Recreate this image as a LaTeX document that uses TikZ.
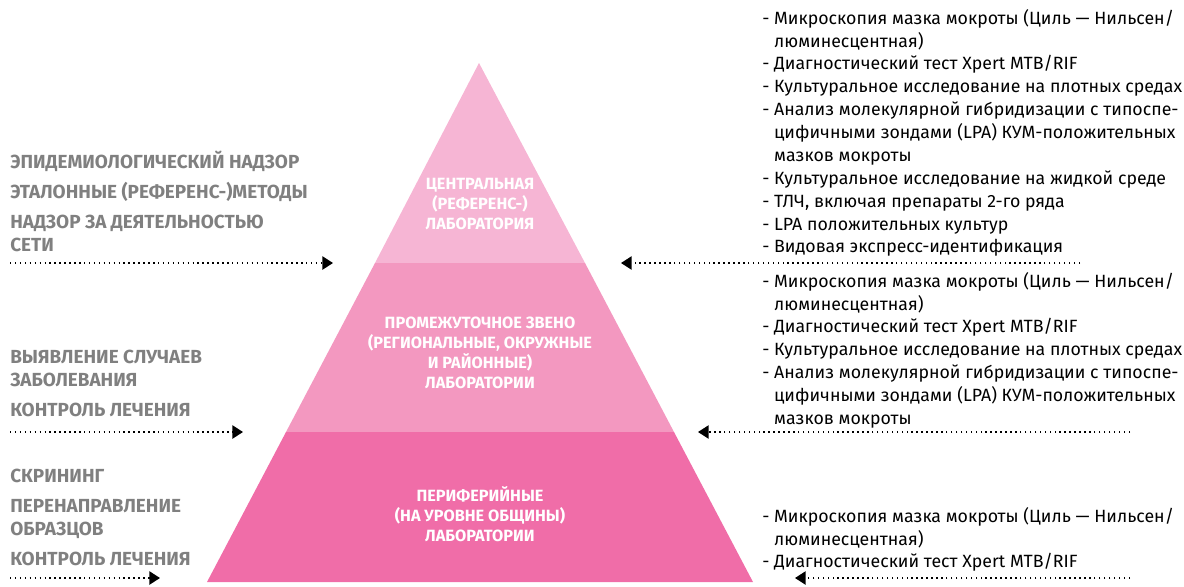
\documentclass[tikz,border=0pt]{standalone}
\usepackage{fontspec}
\setmainfont{Fira Sans}
\usetikzlibrary{arrows.meta}
\definecolor{tierTop}{HTML}{F6B5D4}
\definecolor{tierMid}{HTML}{F398C0}
\definecolor{tierLow}{HTML}{F06DA8}
\definecolor{labelGray}{HTML}{808080}
\newcommand{\contline}{\phantom{- }}
\begin{document}
\begin{tikzpicture}[x=0.75pt, y=-0.75pt,
    leftText/.style={anchor=north west, inner sep=0pt, align=left, text=labelGray, font=\fontsize{14.2}{17.25}\selectfont\bfseries},
    listText/.style={anchor=north west, inner sep=0pt, align=left, font=\fontsize{13.3}{17.15}\selectfont},
    tierText/.style={align=center, inner sep=0pt, text=white, font=\fontsize{12.2}{15}\selectfont\bfseries},
    linkArrow/.style={-{Triangle[length=8pt, width=10pt]}, line width=1.1pt, dash pattern=on 1.1pt off 2.6pt}]
    \useasboundingbox (0,0) rectangle (1184,586);

    % pyramid tiers
    \fill[tierTop] (479,63) -- (585,263) -- (375,263) -- cycle;
    \fill[tierMid] (375,263) -- (585,263) -- (674,432) -- (286,432) -- cycle;
    \fill[tierLow] (286,432) -- (674,432) -- (753,582) -- (207,582) -- cycle;

    \node[tierText](centralLab) at (480,204) {ЦЕНТРАЛЬНАЯ\\(РЕФЕРЕНС-)\\ЛАБОРАТОРИЯ};
    \node[tierText](midLab) at (480,353) {ПРОМЕЖУТОЧНОЕ ЗВЕНО\\(РЕГИОНАЛЬНЫЕ, ОКРУЖНЫЕ\\И РАЙОННЫЕ)\\ЛАБОРАТОРИИ};
    \node[tierText](periphLab) at (480,514) {ПЕРИФЕРИЙНЫЕ\\(НА УРОВНЕ ОБЩИНЫ)\\ЛАБОРАТОРИИ};

    % functions, left side
    \node[leftText](leftTop) at (10,151) {ЭПИДЕМИОЛОГИЧЕСКИЙ НАДЗОР\\[5pt]ЭТАЛОННЫЕ (РЕФЕРЕНС-)МЕТОДЫ\\[5pt]НАДЗОР ЗА ДЕЯТЕЛЬНОСТЬЮ\\СЕТИ};
    \node[leftText](leftMid) at (10,350) {ВЫЯВЛЕНИЕ СЛУЧАЕВ\\ЗАБОЛЕВАНИЯ\\[5pt]КОНТРОЛЬ ЛЕЧЕНИЯ};
    \node[leftText](leftLow) at (10,469) {СКРИНИНГ\\[5pt]ПЕРЕНАПРАВЛЕНИЕ\\ОБРАЗЦОВ\\[5pt]КОНТРОЛЬ ЛЕЧЕНИЯ};

    % tests, right side
    \node[listText](rightTop) at (762,9) {- Микроскопия мазка мокроты (Циль — Нильсен/\\\contline люминесцентная)\\- Диагностический тест Xpert MTB/RIF\\- Культуральное исследование на плотных средах\\- Анализ молекулярной гибридизации с типоспе-\\\contline цифичными зондами (LPA) КУМ-положительных\\\contline мазков мокроты\\- Культуральное исследование на жидкой среде\\- ТЛЧ, включая препараты 2-го ряда\\- LPA положительных культур\\- Видовая экспресс-идентификация};
    \node[listText](rightMid) at (762,272) {- Микроскопия мазка мокроты (Циль — Нильсен/\\\contline люминесцентная)\\- Диагностический тест Xpert MTB/RIF\\- Культуральное исследование на плотных средах\\- Анализ молекулярной гибридизации с типоспе-\\\contline цифичными зондами (LPA) КУМ-положительных\\\contline мазков мокроты};
    \node[listText](rightLow) at (762,507) {- Микроскопия мазка мокроты (Циль — Нильсен/\\\contline люминесцентная)\\- Диагностический тест Xpert MTB/RIF};

    % dotted arrows
    \coordinate (lTopStart) at (10,263);
    \coordinate (lTopEnd) at (333,263);
    \coordinate (lMidStart) at (10,432);
    \coordinate (lMidEnd) at (243,432);
    \coordinate (lLowStart) at (10,578);
    \coordinate (lLowEnd) at (160,578);
    \coordinate (rTopStart) at (1080,263);
    \coordinate (rTopEnd) at (621,263);
    \coordinate (rMidStart) at (1130,432);
    \coordinate (rMidEnd) at (698,432);
    \coordinate (rLowStart) at (1130,578);
    \coordinate (rLowEnd) at (795,578);

    \draw[linkArrow] (lTopStart) -- (lTopEnd);
    \draw[linkArrow] (lMidStart) -- (lMidEnd);
    \draw[linkArrow] (lLowStart) -- (lLowEnd);
    \draw[linkArrow] (rTopStart) -- (rTopEnd);
    \draw[linkArrow] (rMidStart) -- (rMidEnd);
    \draw[linkArrow] (rLowStart) -- (rLowEnd);
\end{tikzpicture}
\end{document}
